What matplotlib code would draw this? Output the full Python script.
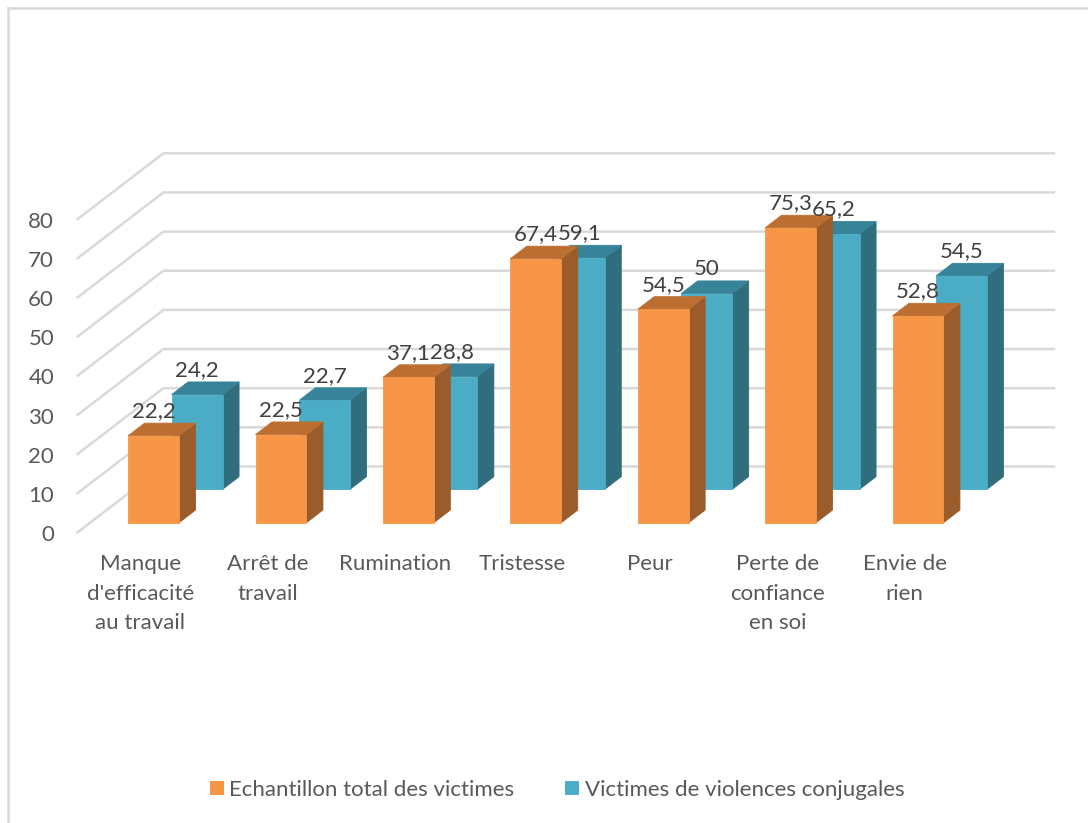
import matplotlib
matplotlib.use("Agg")
from matplotlib import pyplot as plt
from matplotlib.patches import Polygon, Patch
from matplotlib.lines import Line2D

plt.rcParams['font.family'] = ['Lato', 'DejaVu Sans']

#_____________________________________________________
#DATA

categories = ["Manque\nd'efficacité\nau travail", "Arrêt de\ntravail", "Rumination",
              "Tristesse", "Peur", "Perte de\nconfiance\nen soi", "Envie de\nrien"]
total_victimes = [22.2, 22.5, 37.1, 67.4, 54.5, 75.3, 52.8]
violences_conjugales = [24.2, 22.7, 28.8, 59.1, 50, 65.2, 54.5]
value_labels_total = ["22,2", "22,5", "37,1", "67,4", "54,5", "75,3", "52,8"]
value_labels_conj = ["24,2", "22,7", "28,8", "59,1", "50", "65,2", "54,5"]
series_names = ["Echantillon total des victimes", "Victimes de violences conjugales"]
y_ticks = [0, 10, 20, 30, 40, 50, 60, 70, 80]

#_____________________________________________________
#LAYOUT (oblique "3D" projection done by hand)

W, H = 1088, 823
PX_CAT = 127.4          # pixels per category on the front plane
PX_VAL = 3.915          # pixels per value unit
X0_PX, Y0_PX = 76.7, 533.0   # front plane origin (pixels from top-left)
DX = 86.7 / PX_CAT      # full depth offset, in data units
DY = 66.5 / PX_VAL
FS = 16

BAR_OFF, BAR_W = 0.298, 0.40
series = [
    # values, labels, depth range, front, top, side
    (violences_conjugales, value_labels_conj, (0.657, 0.847), "#4BACC6", "#37849A", "#306E7E"),
    (total_victimes, value_labels_total, (0.155, 0.345), "#F79646", "#BD6F31", "#9A5C2A"),
]

GRID = "#D9D9D9"
TXT = "#595959"
LBL = "#404040"

fig = plt.figure(figsize=(W / 100, H / 100), dpi=100)
ax = fig.add_axes([X0_PX / W, 0, 1 - X0_PX / W, 1])
ax.set_xlim(0, (W - X0_PX) / PX_CAT)
ax.set_ylim(-(H - Y0_PX) / PX_VAL, Y0_PX / PX_VAL)
for sp in ax.spines.values():
    sp.set_visible(False)
ax.set_xticks([])
ax.set_yticks(y_ticks)
ax.set_yticklabels([str(t) for t in y_ticks])
ax.tick_params(axis='y', length=0, pad=16.3, labelsize=FS, labelcolor=TXT)

# gridlines: diagonal on the left wall, then horizontal on the back wall
n = len(categories)
for v in y_ticks:
    ax.plot([0, DX, n + DX], [v, v + DY, v + DY], color=GRID, lw=1.8,
            solid_capstyle='butt', zorder=1, clip_on=False)

# bars, back series first
for vals, labs, (d0, d1), c_front, c_top, c_side in series:
    for i, v in enumerate(vals):
        x0 = i + BAR_OFF
        x1 = x0 + BAR_W
        fx0, fx1, fy = x0 + d0 * DX, x1 + d0 * DX, d0 * DY
        bx0, bx1, by = x0 + d1 * DX, x1 + d1 * DX, d1 * DY
        front = [(fx0, fy), (fx1, fy), (fx1, fy + v), (fx0, fy + v)]
        top = [(fx0, fy + v), (fx1, fy + v), (bx1, by + v), (bx0, by + v)]
        side = [(fx1, fy), (bx1, by), (bx1, by + v), (fx1, fy + v)]
        for poly, col in [(side, c_side), (top, c_top), (front, c_front)]:
            ax.add_patch(Polygon(poly, closed=True, facecolor=col, edgecolor=col,
                                 lw=0.6, zorder=2, clip_on=False))
        ax.text((fx0 + fx1) / 2, by + v + 6 / PX_VAL, labs[i], ha='center',
                va='baseline', fontsize=FS, color=LBL, zorder=3)

# category labels on the front plane
for i, c in enumerate(categories):
    ax.text(i + 0.5, -(554 - Y0_PX) / PX_VAL, c, ha='center', va='top',
            fontsize=FS, color=TXT, linespacing=1.6)

# legend
handles = [Patch(facecolor=series[1][3], edgecolor='none'),
           Patch(facecolor=series[0][3], edgecolor='none')]
fig.legend(handles, series_names, loc='center', bbox_to_anchor=(557 / W, 1 - 790 / H),
           ncol=2, frameon=False, fontsize=FS, labelcolor=TXT,
           handlelength=0.63, handleheight=0.63, handletextpad=0.25, columnspacing=2.3)

# chart border (only left and top visible in the reference)
fig.add_artist(Line2D([8 / W, 1], [1 - 7.5 / H, 1 - 7.5 / H], color=GRID, lw=1.8))
fig.add_artist(Line2D([8 / W, 8 / W], [0, 1 - 7.5 / H], color=GRID, lw=1.8))

fig.savefig("out.png", dpi=100)
